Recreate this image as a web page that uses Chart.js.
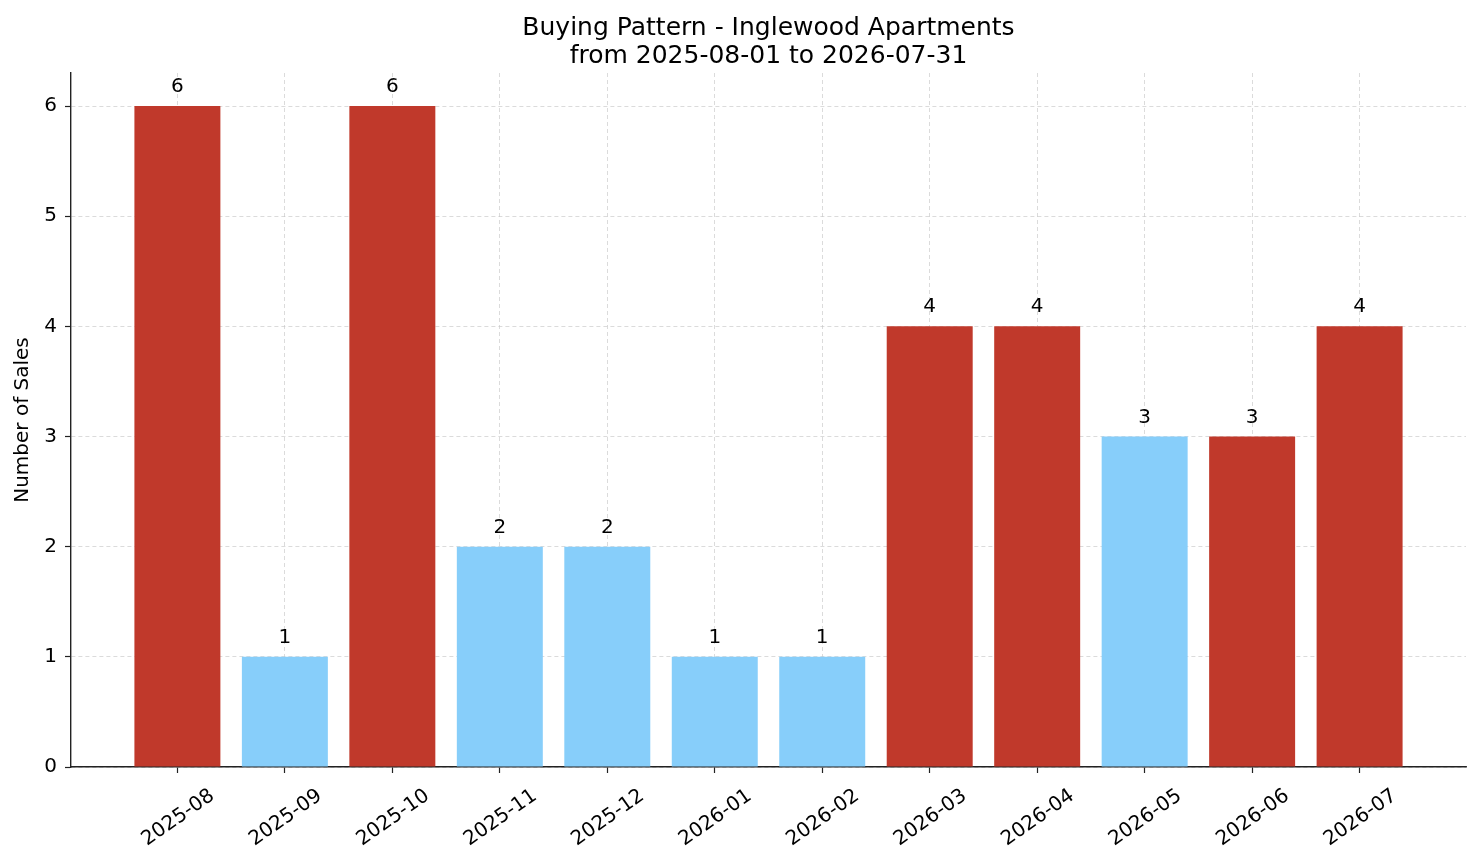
<!DOCTYPE html>
<html>
<head>
<meta charset="utf-8">
<script src="https://cdn.jsdelivr.net/npm/chart.js"></script>
<style>
  html, body { margin: 0; padding: 0; background: #fff; }
  #wrap { width: 1481px; height: 863px; }
</style>
</head>
<body>
<div id="wrap"><canvas id="chart"></canvas></div>
<script>
const months = ['2025-08', '2025-09', '2025-10', '2025-11', '2025-12', '2026-01',
                '2026-02', '2026-03', '2026-04', '2026-05', '2026-06', '2026-07'];
const sales = [6, 1, 6, 2, 2, 1, 1, 4, 4, 3, 3, 4];
const highMonth = [true, false, true, false, false, false, false, true, true, false, true, true];
const yTicks = [0, 1, 2, 3, 4, 5, 6];
const titleLines = ['Buying Pattern - Inglewood Apartments', 'from 2025-08-01 to 2026-07-31'];

const RED = '#c0392b';
const BLUE = '#87cefa';
const FONT = "'DejaVu Sans', sans-serif";
const GRID = 'rgba(195, 195, 195, 0.75)';

// value labels above each bar
const barLabels = {
  id: 'barLabels',
  afterDatasetsDraw(chart) {
    const ctx = chart.ctx;
    const meta = chart.getDatasetMeta(0);
    ctx.save();
    ctx.font = '20px ' + FONT;
    ctx.fillStyle = '#000';
    ctx.textAlign = 'center';
    ctx.textBaseline = 'alphabetic';
    meta.data.forEach((bar, i) => {
      ctx.fillText(String(sales[i]), bar.x, bar.y - 14);
    });
    ctx.restore();
  }
};

const gridOpts = {
  color: GRID,
  lineWidth: 0.8,
  tickColor: '#222',
  tickLength: 6,
  tickWidth: 1.2,
  tickBorderDash: [],
  offset: false
};

new Chart(document.getElementById('chart'), {
  type: 'bar',
  data: {
    datasets: [{
      data: sales.map((v, i) => ({ x: i, y: v })),
      backgroundColor: highMonth.map(h => h ? RED : BLUE),
      borderWidth: 0,
      categoryPercentage: 0.8,
      barPercentage: 1.0
    }]
  },
  options: {
    responsive: true,
    maintainAspectRatio: false,
    animation: false,
    devicePixelRatio: 1,
    layout: { padding: { left: 0, right: 15, top: 0, bottom: 0 } },
    plugins: {
      legend: { display: false },
      tooltip: { enabled: false },
      title: {
        display: true,
        fullSize: false,
        text: titleLines,
        color: '#000',
        font: { family: FONT, size: 25, weight: 'normal', lineHeight: 1.12 },
        padding: { top: 14, bottom: 3 }
      }
    },
    scales: {
      x: {
        type: 'linear',
        offset: false,
        min: -0.99,
        max: 11.99,
        z: 1,
        afterBuildTicks: s => { s.ticks = months.map((_, i) => ({ value: i })); },
        afterFit: s => { s.height = 96; },
        ticks: {
          callback: v => months[v],
          minRotation: 35,
          maxRotation: 35,
          labelOffset: 35,
          padding: 11,
          color: '#000',
          font: { family: FONT, size: 20 }
        },
        grid: gridOpts,
        border: { display: true, color: '#222', width: 1.4, dash: [4, 3] }
      },
      y: {
        min: 0,
        max: 6.3,
        z: 1,
        afterBuildTicks: s => { s.ticks = yTicks.map(v => ({ value: v })); },
        afterFit: s => { s.width = 71; },
        ticks: {
          color: '#000',
          padding: 8,
          font: { family: FONT, size: 20 }
        },
        title: {
          display: true,
          text: 'Number of Sales',
          color: '#000',
          font: { family: FONT, size: 20 },
          padding: { top: 11, bottom: 0 }
        },
        grid: gridOpts,
        border: { display: true, color: '#222', width: 1.4, dash: [4, 3] }
      }
    }
  },
  plugins: [barLabels]
});
</script>
</body>
</html>
